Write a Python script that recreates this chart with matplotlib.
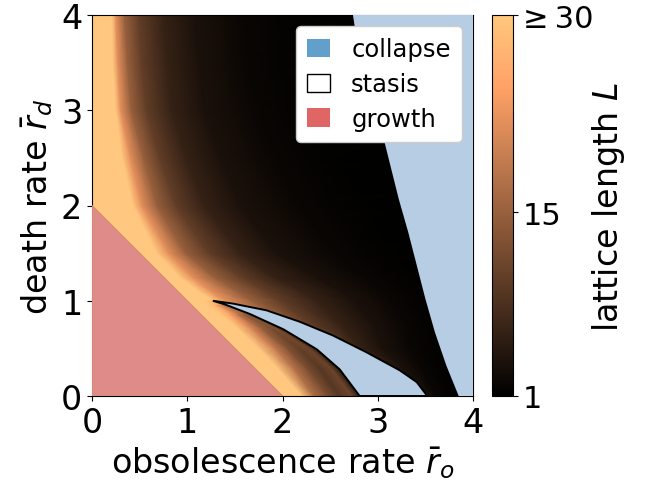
import numpy as np
import matplotlib
matplotlib.use("Agg")
import matplotlib.pyplot as plt
from matplotlib.patches import Polygon, Patch

# ---------------- data ----------------
# Upper field: for each row y, the x positions where L takes the given levels
A_Y = [0.0, 0.25, 0.5, 0.75, 1.0, 1.1, 1.25, 1.5, 2.0, 2.5, 3.0, 3.5, 4.0]
A_LEVELS = [30, 30, 22, 15, 10, 6, 3.5, 2, 1.3, 1]
A_X = [
    [0, 1.90, 2.30, 2.70, 3.00, 3.30, 3.50, 3.62, 3.80, 4.0],
    [0, 1.70, 2.20, 2.60, 2.90, 3.15, 3.30, 3.48, 3.72, 4.0],
    [0, 1.50, 2.00, 2.40, 2.65, 2.80, 3.05, 3.35, 3.62, 4.0],
    [0, 1.30, 1.75, 2.05, 2.28, 2.60, 2.95, 3.30, 3.62, 4.0],
    [0, 1.27, 1.40, 1.68, 1.97, 2.35, 2.75, 3.15, 3.55, 4.0],
    [0, 1.12, 1.25, 1.52, 1.82, 2.20, 2.62, 3.05, 3.50, 4.0],
    [0, 0.92, 1.05, 1.28, 1.56, 1.90, 2.35, 2.85, 3.35, 4.0],
    [0, 0.68, 0.80, 0.98, 1.22, 1.55, 1.95, 2.55, 3.15, 4.0],
    [0, 0.43, 0.52, 0.68, 0.88, 1.17, 1.56, 2.15, 2.85, 4.0],
    [0, 0.32, 0.40, 0.54, 0.71, 0.98, 1.35, 1.90, 2.55, 4.0],
    [0, 0.25, 0.30, 0.41, 0.57, 0.83, 1.18, 1.72, 2.35, 4.0],
    [0, 0.22, 0.27, 0.37, 0.52, 0.78, 1.12, 1.62, 2.25, 4.0],
    [0, 0.21, 0.25, 0.34, 0.49, 0.74, 1.08, 1.58, 2.25, 4.0],
]

# Stasis band below the pocket (between growth line and pocket)
B_Y = [0.0, 0.28, 0.49, 0.70, 0.86, 0.96, 1.0]
B_X = [
    [2.00, 2.20, 2.33, 2.48, 2.60, 2.73, 2.81],
    [1.72, 1.96, 2.12, 2.27, 2.40, 2.52, 2.60],
    [1.51, 1.76, 1.93, 2.06, 2.18, 2.29, 2.36],
    [1.30, 1.54, 1.68, 1.79, 1.89, 1.96, 2.01],
    [1.14, 1.35, 1.45, 1.52, 1.58, 1.63, 1.66],
    [1.04, 1.20, 1.27, 1.31, 1.35, 1.38, 1.40],
    [1.00, 1.18, 1.21, 1.23, 1.25, 1.26, 1.27],
]
B_L = [
    [30, 30, 17, 12, 9, 11, 5],
    [30, 30, 18, 12, 9, 11, 5],
    [30, 30, 19, 13, 10, 11, 6],
    [30, 30, 21, 15, 12, 12, 7],
    [30, 30, 24, 19, 15, 14, 9],
    [30, 30, 28, 25, 22, 20, 14],
    [30, 30, 30, 30, 30, 30, 30],
]

# collapse regions
COLLAPSE_RIGHT_X = [2.74, 2.80, 2.92, 3.07, 3.22, 3.32, 3.41, 3.50, 3.60, 3.72, 3.85, 4.0, 4.0]
COLLAPSE_RIGHT_Y = [4.00, 3.60, 3.20, 2.67, 2.07, 1.72, 1.37, 1.02, 0.67, 0.32, 0.00, 0.0, 4.0]
POCKET_X = [1.27, 1.48, 1.83, 2.18, 2.53, 2.88, 3.23, 3.41, 3.52, 2.81, 2.60, 2.36, 2.01, 1.66, 1.40]
POCKET_Y = [1.00, 0.97, 0.90, 0.78, 0.635, 0.46, 0.27, 0.145, 0.0, 0.0, 0.28, 0.49, 0.70, 0.86, 0.96]
# growth region: r_o + r_d < 2
GROWTH_X = [0.0, 0.0, 2.0]
GROWTH_Y = [0.0, 2.0, 0.0]

CBAR_TICKS = [1, 15, 30]
CBAR_TICKLABELS = ["1", "15", "≥\u200930"]
AX_TICKS = [0, 1, 2, 3, 4]
LEGEND_LABELS = ["collapse", "stasis", "growth"]

# ---------------- drawing ----------------
COLLAPSE_FILL = "#b7cde4"
GROWTH_FILL = "#df8b8a"

fig = plt.figure(figsize=(6.57, 4.89), dpi=100)
ax = fig.add_axes([92 / 657, 1 - 397 / 489, 381 / 657, 381 / 489])
cax = fig.add_axes([492 / 657, 1 - 397 / 489, 21 / 657, 381 / 489])

AX = np.array(A_X)
AYg = np.repeat(np.array(A_Y)[:, None], AX.shape[1], axis=1)
AC = np.tile(np.array(A_LEVELS, dtype=float), (AX.shape[0], 1))
mesh = ax.pcolormesh(AX, AYg, AC, shading="gouraud", cmap="copper", vmin=1, vmax=30, zorder=1)

BX = np.array(B_X)
BYg = np.repeat(np.array(B_Y)[:, None], BX.shape[1], axis=1)
ax.pcolormesh(BX, BYg, np.array(B_L, dtype=float), shading="gouraud", cmap="copper",
              vmin=1, vmax=30, zorder=2)

ax.add_patch(Polygon(np.column_stack([COLLAPSE_RIGHT_X, COLLAPSE_RIGHT_Y]), closed=True,
                     facecolor=COLLAPSE_FILL, edgecolor="none", zorder=3))
ax.add_patch(Polygon(np.column_stack([POCKET_X, POCKET_Y]), closed=True,
                     facecolor=COLLAPSE_FILL, edgecolor="black", lw=1.4, zorder=3))
ax.add_patch(Polygon(np.column_stack([GROWTH_X, GROWTH_Y]), closed=True,
                     facecolor=GROWTH_FILL, edgecolor="#c9906a", lw=0.8, zorder=4))

ax.set_xlim(0, 4)
ax.set_ylim(0, 4)
ax.set_xticks(AX_TICKS)
ax.set_yticks(AX_TICKS)
ax.tick_params(labelsize=24)
ax.set_xlabel(r"obsolescence rate $\bar{r}_o$", fontsize=24, labelpad=4)
ax.set_ylabel(r"death rate $\bar{r}_d$", fontsize=24, labelpad=4)

handles = [Patch(facecolor="#62a0cb", edgecolor="none"),
           Patch(facecolor="white", edgecolor="black"),
           Patch(facecolor="#e06666", edgecolor="none")]
leg = ax.legend(handles, LEGEND_LABELS, loc="upper right", fontsize=17.5,
                bbox_to_anchor=(0.97, 0.97), framealpha=1, handlelength=0.95,
                handleheight=0.8, handletextpad=0.85, borderpad=0.45, labelspacing=0.45,
                borderaxespad=0.0)
leg.set_zorder(10)

cb = fig.colorbar(mesh, cax=cax)
cb.set_ticks(CBAR_TICKS)
cb.set_ticklabels(CBAR_TICKLABELS)
cb.ax.tick_params(labelsize=22)
cb.set_label(r"lattice length $L$", fontsize=24, labelpad=-2)

fig.savefig("out.png", dpi=100)
